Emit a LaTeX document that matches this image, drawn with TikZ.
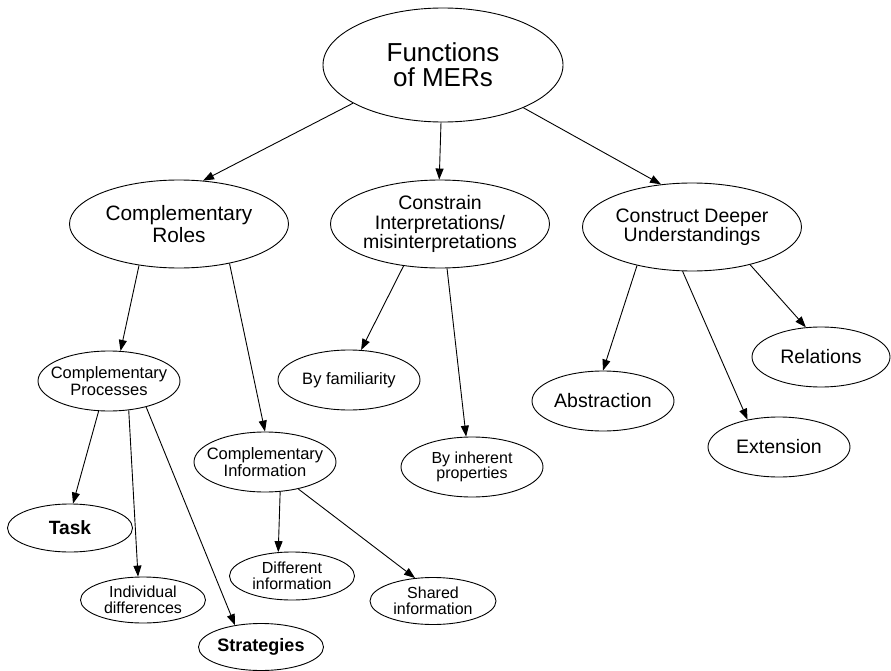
\documentclass[tikz,border=0pt]{standalone}
\usepackage{fontspec}
\setmainfont{Liberation Sans}
\usepackage{tikz}
\usetikzlibrary{shapes.geometric,arrows.meta}

\begin{document}
\begin{tikzpicture}[x=1pt,y=-1pt,->,>={Triangle[length=11pt,width=8pt]},line width=0.9pt]
    \tikzstyle{topic}=[ellipse,draw,inner xsep=-20pt,inner ysep=0pt,align=center]
    \tikzstyle{main topic}=[topic,minimum width=240pt,minimum height=114pt,font=\fontsize{26}{25}\selectfont]
    \tikzstyle{role}=[topic,minimum width=219pt,minimum height=88pt,font=\fontsize{19.5}{19.5}\selectfont]
    \tikzstyle{sub role}=[topic,minimum width=142pt,minimum height=60pt,font=\fontsize{16.5}{17}\selectfont]
    \tikzstyle{big sub role}=[sub role,font=\fontsize{19.5}{19.5}\selectfont]
    \tikzstyle{leaf}=[topic,minimum width=125pt,minimum height=47pt,font=\fontsize{16}{15.5}\selectfont]
    \tikzstyle{bold leaf}=[leaf,font=\fontsize{18}{18}\selectfont\bfseries]

    \useasboundingbox (0,0) rectangle (891,671);

    % Draw the top node
    \node[main topic] (F) at (443,65) {Functions\\of MERs};

    % Draw the three roles
    \node[role,font=\fontsize{20.8}{22}\selectfont] (R-1) at (179,224) {Complementary\\Roles};
    \node[role] (R-2) at (440,224) {Constrain\\Interpretations/\\misinterpretations};
    \node[role] (R-3) at (692,227) {Construct Deeper\\Understandings};

    % Draw the second layer
    \node[sub role] (S-1) at (109,381) {Complementary\\Processes};
    \node[sub role] (S-2) at (265,462) {Complementary\\Information};
    \node[sub role] (S-3) at (349,380) {By familiarity};
    \node[sub role,font=\fontsize{16}{15.5}\selectfont] (S-4) at (472,467) {By inherent\\properties};
    \node[big sub role] (S-5) at (603,401) {Abstraction};
    \node[big sub role] (S-6) at (779,447) {Extension};
    \node[big sub role,minimum width=138pt] (S-7) at (821,357) {Relations};

    % Draw the leaves
    \node[bold leaf,minimum height=48pt,font=\fontsize{19.2}{19}\selectfont\bfseries] (T-1) at (70,528) {Task};
    \node[leaf,minimum height=46pt] (T-2) at (143,600) {Individual\\differences};
    \node[bold leaf] (T-3) at (261,647) {Strategies};
    \node[leaf,minimum height=48pt] (T-4) at (292,576) {Different\\information};
    \node[leaf,minimum width=126pt] (T-5) at (433,601) {Shared\\information};

    % Connect every node with its children
    \foreach \source/\sa/\dest/\da in {F/203/R-1/61, F/268/R-2/91, F/332/R-3/126,
        R-1/226/S-1/69, R-1/322/S-2/90, R-2/229/S-3/68, R-2/279/S-4/101,
        R-3/215/S-5/90, R-3/258/S-6/139, R-3/327/S-7/117,
        S-1/251/T-1/83, S-1/304/T-2/102, S-1/325/T-3/140,
        S-2/297/T-4/120, S-2/321/T-5/128}
        \draw (\source.\sa) -- (\dest.\da);
\end{tikzpicture}
\end{document}
